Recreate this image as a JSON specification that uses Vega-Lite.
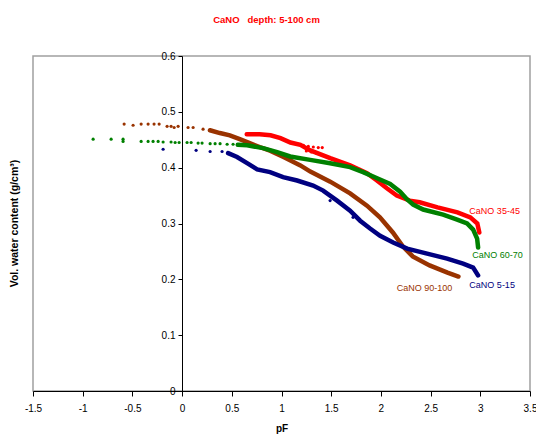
{
  "$schema": "https://vega.github.io/schema/vega-lite/v6.json",
  "width": 497,
  "height": 335,
  "autosize": "none",
  "padding": {"left": 33, "top": 56, "right": 6, "bottom": 43},
  "background": "white",
  "title": {
    "text": "CaNO\u00a0\u00a0\u00a0depth: 5-100 cm",
    "color": "#ff0000",
    "font": "Liberation Sans",
    "fontSize": 9.5,
    "fontWeight": "bold",
    "anchor": "middle",
    "dx": -15,
    "offset": 27
  },
  "config": {
    "view": {"stroke": "#a0a0a0", "strokeWidth": 1.5},
    "axis": {
      "labelFont": "Liberation Sans",
      "labelFontSize": 10,
      "labelColor": "black",
      "labelFlush": false,
      "titleFont": "Liberation Sans",
      "titleFontSize": 10,
      "titleFontWeight": "bold",
      "titleColor": "black",
      "domainColor": "black",
      "tickColor": "black",
      "grid": false
    }
  },
  "datasets": {
    "pts": [
      {"s": "CaNO 90-100", "x": -0.583, "y": 0.478, "p": "s"},
      {"s": "CaNO 90-100", "x": -0.493, "y": 0.476, "p": "s"},
      {"s": "CaNO 90-100", "x": -0.412, "y": 0.478, "p": "s"},
      {"s": "CaNO 90-100", "x": -0.342, "y": 0.478, "p": "s"},
      {"s": "CaNO 90-100", "x": -0.282, "y": 0.478, "p": "s"},
      {"s": "CaNO 90-100", "x": -0.231, "y": 0.478, "p": "s"},
      {"s": "CaNO 90-100", "x": -0.151, "y": 0.474, "p": "s"},
      {"s": "CaNO 90-100", "x": -0.111, "y": 0.474, "p": "s"},
      {"s": "CaNO 90-100", "x": -0.080, "y": 0.472, "p": "s"},
      {"s": "CaNO 90-100", "x": -0.040, "y": 0.474, "p": "s"},
      {"s": "CaNO 90-100", "x": 0.060, "y": 0.472, "p": "s"},
      {"s": "CaNO 90-100", "x": 0.111, "y": 0.472, "p": "s"},
      {"s": "CaNO 90-100", "x": 0.211, "y": 0.469, "p": "s"},
      {"s": "CaNO 90-100", "x": 0.28, "y": 0.467, "p": "d"},
      {"s": "CaNO 90-100", "x": 0.38, "y": 0.462, "p": "d"},
      {"s": "CaNO 90-100", "x": 0.48, "y": 0.458, "p": "d"},
      {"s": "CaNO 90-100", "x": 0.58, "y": 0.451, "p": "d"},
      {"s": "CaNO 90-100", "x": 0.68, "y": 0.444, "p": "d"},
      {"s": "CaNO 90-100", "x": 0.78, "y": 0.437, "p": "d"},
      {"s": "CaNO 90-100", "x": 0.89, "y": 0.430, "p": "d"},
      {"s": "CaNO 90-100", "x": 1.02, "y": 0.419, "p": "d"},
      {"s": "CaNO 90-100", "x": 1.19, "y": 0.404, "p": "d"},
      {"s": "CaNO 90-100", "x": 1.29, "y": 0.393, "p": "d"},
      {"s": "CaNO 90-100", "x": 1.49, "y": 0.375, "p": "d"},
      {"s": "CaNO 90-100", "x": 1.69, "y": 0.354, "p": "d"},
      {"s": "CaNO 90-100", "x": 1.86, "y": 0.332, "p": "d"},
      {"s": "CaNO 90-100", "x": 1.99, "y": 0.311, "p": "d"},
      {"s": "CaNO 90-100", "x": 2.12, "y": 0.284, "p": "d"},
      {"s": "CaNO 90-100", "x": 2.22, "y": 0.259, "p": "d"},
      {"s": "CaNO 90-100", "x": 2.32, "y": 0.241, "p": "d"},
      {"s": "CaNO 90-100", "x": 2.49, "y": 0.225, "p": "d"},
      {"s": "CaNO 90-100", "x": 2.67, "y": 0.212, "p": "d"},
      {"s": "CaNO 90-100", "x": 2.78, "y": 0.205, "p": "d"},

      {"s": "CaNO 35-45", "x": 0.65, "y": 0.460, "p": "d"},
      {"s": "CaNO 35-45", "x": 0.78, "y": 0.460, "p": "d"},
      {"s": "CaNO 35-45", "x": 0.89, "y": 0.458, "p": "d"},
      {"s": "CaNO 35-45", "x": 0.99, "y": 0.453, "p": "d"},
      {"s": "CaNO 35-45", "x": 1.09, "y": 0.445, "p": "d"},
      {"s": "CaNO 35-45", "x": 1.19, "y": 0.441, "p": "d"},
      {"s": "CaNO 35-45", "x": 1.29, "y": 0.431, "p": "d"},
      {"s": "CaNO 35-45", "x": 1.49, "y": 0.417, "p": "d"},
      {"s": "CaNO 35-45", "x": 1.69, "y": 0.404, "p": "d"},
      {"s": "CaNO 35-45", "x": 1.86, "y": 0.390, "p": "d"},
      {"s": "CaNO 35-45", "x": 1.96, "y": 0.377, "p": "d"},
      {"s": "CaNO 35-45", "x": 2.06, "y": 0.363, "p": "d"},
      {"s": "CaNO 35-45", "x": 2.16, "y": 0.350, "p": "d"},
      {"s": "CaNO 35-45", "x": 2.29, "y": 0.341, "p": "d"},
      {"s": "CaNO 35-45", "x": 2.39, "y": 0.338, "p": "d"},
      {"s": "CaNO 35-45", "x": 2.57, "y": 0.329, "p": "d"},
      {"s": "CaNO 35-45", "x": 2.77, "y": 0.320, "p": "d"},
      {"s": "CaNO 35-45", "x": 2.90, "y": 0.311, "p": "d"},
      {"s": "CaNO 35-45", "x": 2.97, "y": 0.300, "p": "d"},
      {"s": "CaNO 35-45", "x": 2.99, "y": 0.284, "p": "d"},
      {"s": "CaNO 35-45", "x": 1.22, "y": 0.440, "p": "s"},
      {"s": "CaNO 35-45", "x": 1.27, "y": 0.438, "p": "s"},
      {"s": "CaNO 35-45", "x": 1.32, "y": 0.437, "p": "s"},
      {"s": "CaNO 35-45", "x": 1.37, "y": 0.436, "p": "s"},
      {"s": "CaNO 35-45", "x": 1.41, "y": 0.436, "p": "s"},
      {"s": "CaNO 35-45", "x": 1.30, "y": 0.428, "p": "s"},
      {"s": "CaNO 35-45", "x": 1.35, "y": 0.426, "p": "s"},
      {"s": "CaNO 35-45", "x": 1.25, "y": 0.430, "p": "s"},

      {"s": "CaNO 60-70", "x": -0.895, "y": 0.451, "p": "s"},
      {"s": "CaNO 60-70", "x": -0.714, "y": 0.451, "p": "s"},
      {"s": "CaNO 60-70", "x": -0.594, "y": 0.451, "p": "s"},
      {"s": "CaNO 60-70", "x": -0.594, "y": 0.447, "p": "s"},
      {"s": "CaNO 60-70", "x": -0.412, "y": 0.447, "p": "s"},
      {"s": "CaNO 60-70", "x": -0.342, "y": 0.447, "p": "s"},
      {"s": "CaNO 60-70", "x": -0.292, "y": 0.447, "p": "s"},
      {"s": "CaNO 60-70", "x": -0.241, "y": 0.447, "p": "s"},
      {"s": "CaNO 60-70", "x": -0.191, "y": 0.446, "p": "s"},
      {"s": "CaNO 60-70", "x": -0.111, "y": 0.446, "p": "s"},
      {"s": "CaNO 60-70", "x": -0.070, "y": 0.445, "p": "s"},
      {"s": "CaNO 60-70", "x": -0.030, "y": 0.445, "p": "s"},
      {"s": "CaNO 60-70", "x": 0.050, "y": 0.445, "p": "s"},
      {"s": "CaNO 60-70", "x": 0.091, "y": 0.445, "p": "s"},
      {"s": "CaNO 60-70", "x": 0.161, "y": 0.444, "p": "s"},
      {"s": "CaNO 60-70", "x": 0.201, "y": 0.444, "p": "s"},
      {"s": "CaNO 60-70", "x": 0.282, "y": 0.443, "p": "s"},
      {"s": "CaNO 60-70", "x": 0.332, "y": 0.443, "p": "s"},
      {"s": "CaNO 60-70", "x": 0.382, "y": 0.443, "p": "s"},
      {"s": "CaNO 60-70", "x": 0.453, "y": 0.442, "p": "s"},
      {"s": "CaNO 60-70", "x": 0.513, "y": 0.442, "p": "s"},
      {"s": "CaNO 60-70", "x": 0.56, "y": 0.441, "p": "d"},
      {"s": "CaNO 60-70", "x": 0.654, "y": 0.440, "p": "d"},
      {"s": "CaNO 60-70", "x": 0.815, "y": 0.435, "p": "d"},
      {"s": "CaNO 60-70", "x": 0.956, "y": 0.428, "p": "d"},
      {"s": "CaNO 60-70", "x": 1.087, "y": 0.420, "p": "d"},
      {"s": "CaNO 60-70", "x": 1.288, "y": 0.414, "p": "d"},
      {"s": "CaNO 60-70", "x": 1.489, "y": 0.408, "p": "d"},
      {"s": "CaNO 60-70", "x": 1.690, "y": 0.401, "p": "d"},
      {"s": "CaNO 60-70", "x": 1.821, "y": 0.392, "p": "d"},
      {"s": "CaNO 60-70", "x": 1.962, "y": 0.381, "p": "d"},
      {"s": "CaNO 60-70", "x": 2.093, "y": 0.371, "p": "d"},
      {"s": "CaNO 60-70", "x": 2.193, "y": 0.357, "p": "d"},
      {"s": "CaNO 60-70", "x": 2.264, "y": 0.343, "p": "d"},
      {"s": "CaNO 60-70", "x": 2.324, "y": 0.334, "p": "d"},
      {"s": "CaNO 60-70", "x": 2.425, "y": 0.325, "p": "d"},
      {"s": "CaNO 60-70", "x": 2.626, "y": 0.316, "p": "d"},
      {"s": "CaNO 60-70", "x": 2.767, "y": 0.307, "p": "d"},
      {"s": "CaNO 60-70", "x": 2.867, "y": 0.300, "p": "d"},
      {"s": "CaNO 60-70", "x": 2.928, "y": 0.289, "p": "d"},
      {"s": "CaNO 60-70", "x": 2.968, "y": 0.273, "p": "d"},
      {"s": "CaNO 60-70", "x": 2.978, "y": 0.257, "p": "d"},

      {"s": "CaNO 5-15", "x": -0.191, "y": 0.433, "p": "s"},
      {"s": "CaNO 5-15", "x": 0.141, "y": 0.431, "p": "s"},
      {"s": "CaNO 5-15", "x": 0.282, "y": 0.429, "p": "s"},
      {"s": "CaNO 5-15", "x": 0.402, "y": 0.429, "p": "s"},
      {"s": "CaNO 5-15", "x": 0.463, "y": 0.426, "p": "d"},
      {"s": "CaNO 5-15", "x": 0.553, "y": 0.419, "p": "d"},
      {"s": "CaNO 5-15", "x": 0.654, "y": 0.408, "p": "d"},
      {"s": "CaNO 5-15", "x": 0.755, "y": 0.397, "p": "d"},
      {"s": "CaNO 5-15", "x": 0.885, "y": 0.392, "p": "d"},
      {"s": "CaNO 5-15", "x": 1.016, "y": 0.383, "p": "d"},
      {"s": "CaNO 5-15", "x": 1.157, "y": 0.377, "p": "d"},
      {"s": "CaNO 5-15", "x": 1.318, "y": 0.368, "p": "d"},
      {"s": "CaNO 5-15", "x": 1.419, "y": 0.359, "p": "d"},
      {"s": "CaNO 5-15", "x": 1.559, "y": 0.341, "p": "d"},
      {"s": "CaNO 5-15", "x": 1.690, "y": 0.323, "p": "d"},
      {"s": "CaNO 5-15", "x": 1.791, "y": 0.305, "p": "d"},
      {"s": "CaNO 5-15", "x": 1.891, "y": 0.291, "p": "d"},
      {"s": "CaNO 5-15", "x": 1.992, "y": 0.278, "p": "d"},
      {"s": "CaNO 5-15", "x": 2.123, "y": 0.266, "p": "d"},
      {"s": "CaNO 5-15", "x": 2.264, "y": 0.255, "p": "d"},
      {"s": "CaNO 5-15", "x": 2.465, "y": 0.246, "p": "d"},
      {"s": "CaNO 5-15", "x": 2.666, "y": 0.237, "p": "d"},
      {"s": "CaNO 5-15", "x": 2.827, "y": 0.228, "p": "d"},
      {"s": "CaNO 5-15", "x": 2.928, "y": 0.221, "p": "d"},
      {"s": "CaNO 5-15", "x": 2.978, "y": 0.207, "p": "d"},
      {"s": "CaNO 5-15", "x": 1.489, "y": 0.341, "p": "s"},
      {"s": "CaNO 5-15", "x": 1.72, "y": 0.311, "p": "s"}
    ],
    "labels": [
      {"s": "CaNO 35-45", "x": 2.89, "y": 0.322},
      {"s": "CaNO 60-70", "x": 2.92, "y": 0.243},
      {"s": "CaNO 5-15", "x": 2.89, "y": 0.189},
      {"s": "CaNO 90-100", "x": 2.16, "y": 0.185}
    ]
  },
  "encoding": {
    "x": {
      "field": "x", "type": "quantitative",
      "scale": {"domain": [-1.5, 3.5], "nice": false, "zero": false},
      "axis": {
        "values": [-1.5, -1, -0.5, 0, 0.5, 1, 1.5, 2, 2.5, 3, 3.5],
        "labelExpr": "'' + datum.value",
        "title": "pF",
        "tickSize": 5,
        "labelPadding": 7,
        "titlePadding": 10
      }
    },
    "y": {
      "field": "y", "type": "quantitative",
      "scale": {"domain": [0, 0.6], "nice": false},
      "axis": {
        "values": [0, 0.1, 0.2, 0.3, 0.4, 0.5, 0.6],
        "labelExpr": "'' + datum.value",
        "offset": -149,
        "tickSize": 4,
        "labelPadding": 3,
        "title": "Vol. water content (g/cm\u00b3)",
        "titleFontSize": 10.5,
        "titleX": -163,
        "titleY": 167
      }
    },
    "color": {
      "field": "s", "type": "nominal", "legend": null,
      "scale": {
        "domain": ["CaNO 90-100", "CaNO 35-45", "CaNO 60-70", "CaNO 5-15"],
        "range": ["#993300", "#ff0000", "#008000", "#000080"]
      }
    }
  },
  "layer": [
    {
      "data": {"name": "pts"},
      "transform": [{"filter": "datum.p == 'd'"}],
      "mark": {"type": "line", "strokeWidth": 4.5, "strokeCap": "round"},
      "encoding": {"detail": {"field": "s"}}
    },
    {
      "data": {"name": "pts"},
      "transform": [{"filter": "datum.p == 's'"}],
      "mark": {"type": "circle", "size": 10, "opacity": 1}
    },
    {
      "data": {"name": "labels"},
      "mark": {"type": "text", "align": "left", "baseline": "middle", "font": "Liberation Sans", "fontSize": 9},
      "encoding": {"text": {"field": "s"}}
    }
  ]
}
